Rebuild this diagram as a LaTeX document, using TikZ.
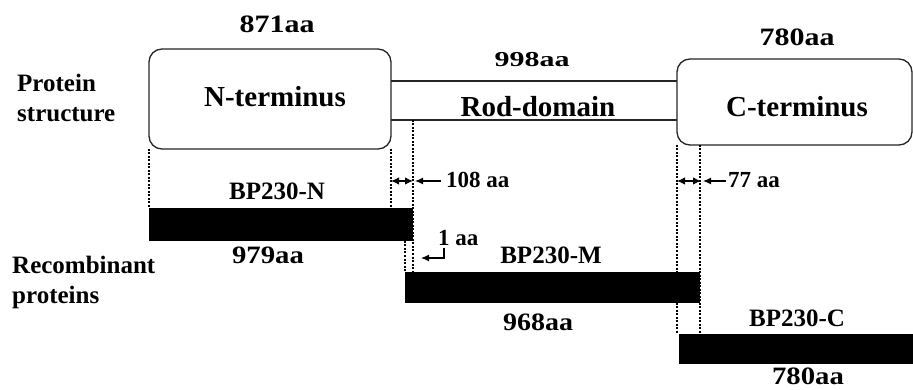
\documentclass[tikz,border=0pt]{standalone}
\usepackage{fontspec}
\setmainfont{Liberation Serif}
\usepackage{graphicx}
\usetikzlibrary{arrows.meta}
\newcommand{\sx}[3]{\scalebox{#1}[#2]{#3}}
\begin{document}
\begin{tikzpicture}[x=1pt,y=-1pt,
 boxline/.style={draw=black!85,line width=1.3pt},
 dombox/.style={boxline,rounded corners=13pt,inner sep=0pt,outer sep=0pt},
 rodbox/.style={inner sep=0pt,outer sep=0pt},
 bar/.style={fill=black,draw=none,inner sep=0pt,outer sep=0pt},
 guide/.style={draw=black,line width=1.2pt,dash pattern=on 2pt off 1.5pt},
 lbl/.style={inner sep=0pt,anchor=base,font=\bfseries\fontsize{25}{30}\selectfont},
 dom/.style={lbl,font=\bfseries\fontsize{29}{34}\selectfont},
 small/.style={inner sep=0pt,anchor=base west,font=\bfseries\fontsize{23}{28}\selectfont},
 side/.style={inner sep=0pt,anchor=base west,font=\bfseries\fontsize{25}{30}\selectfont},
 dimtip/.style={line width=1.2pt,{Latex[length=8pt,width=7.5pt]}-{Latex[length=8pt,width=7.5pt]}},
 ptr/.style={line width=1.2pt,-{Latex[length=8pt,width=7pt]}}
]
\useasboundingbox (0,0) rectangle (913,390);
\fill[white] (0,0) rectangle (913,390);

% domain boxes
\node[dombox, minimum width=242pt, minimum height=100pt] (nbox) at (270,99) {};
\node[rodbox, minimum width=286pt, minimum height=39pt] (rod) at (534,100.5) {};
\node[dombox, minimum width=235pt, minimum height=86pt] (cbox) at (794.5,102) {};
\draw[boxline] (rod.north west) -- (rod.north east);
\draw[boxline] (rod.south west) -- (rod.south east);

% recombinant bars
\node[bar, minimum width=264pt, minimum height=33pt] (barN) at (281,224.5) {};
\node[bar, minimum width=295pt, minimum height=31pt] (barM) at (552.5,287.5) {};
\node[bar, minimum width=236pt, minimum height=30pt] (barC) at (797,349) {};

% guide lines
\draw[guide] (nbox.south west) -- (barN.north west);
\draw[guide] (nbox.south east) -- (nbox.south east |- barN.north);
\draw[guide] (barN.north east |- rod.south) -- (barN.north east |- barM.north);
\draw[guide] (barM.north west |- barN.south) -- (barM.north west);
\draw[guide] (cbox.south west) -- (cbox.south west |- barC.north);
\draw[guide] (barM.north east |- cbox.south) -- (barM.north east |- barC.north);

% dimension markers
\coordinate (d1a) at (391,181);
\coordinate (d1b) at (413,181);
\coordinate (d2a) at (677,181);
\coordinate (d2b) at (701,181);
\draw[dimtip] (d1a) -- (d1b);
\draw[dimtip] (d2a) -- (d2b);
\node[small] (t108) at (446,188) {108 aa};
\node[small] (t77) at (728,188) {77 aa};
\coordinate (p1) at (441,181);
\coordinate (p2) at (726,181);
\draw[ptr] (p1) -- ([xshift=2pt]d1b);
\draw[ptr] (p2) -- ([xshift=2pt]d2b);

% 1 aa bent arrow
\node[small] (t1) at (438,246) {1 aa};
\coordinate (b1) at (444,248);
\coordinate (b2) at (444,258);
\coordinate (b3) at (421,258);
\draw[ptr] (b1) -- (b2) -- (b3);

% domain labels
\node[dom] (lN) at (275,107) {N-terminus};
\node[dom] (lR) at (538,117) {Rod-domain};
\node[dom] (lC) at (797,117) {C-terminus};

% size labels
\node[lbl] (s871) at (277,33) {\sx{1.2}{1}{871aa}};
\node[lbl] (s998) at (532,67) {\sx{1.2}{0.85}{998aa}};
\node[lbl] (s780a) at (797,46) {\sx{1.2}{1}{780aa}};
\node[lbl] (s979) at (268,263) {\sx{1.15}{1}{979aa}};
\node[lbl] (s968) at (538,330) {\sx{1.12}{1}{968aa}};
\node[lbl] (s780b) at (808,384) {\sx{1.15}{1}{780aa}};

% construct names
\node[lbl] (bN) at (277,200) {BP230-N};
\node[lbl] (bM) at (551,263) {BP230-M};
\node[lbl] (bC) at (797,326) {BP230-C};

% side labels
\node[side] (ps1) at (17,92) {Protein};
\node[side] (ps2) at (17,122) {structure};
\node[side] (rp1) at (12,273) {Recombinant};
\node[side] (rp2) at (12,303) {proteins};
\end{tikzpicture}
\end{document}
